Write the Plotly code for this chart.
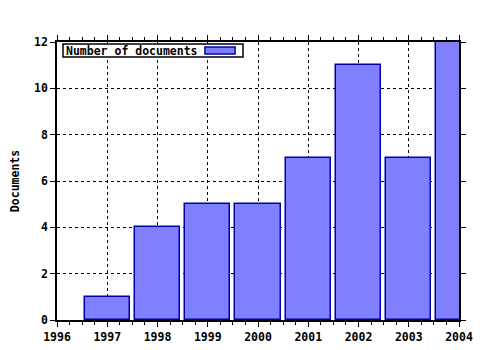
import plotly.graph_objects as go

years = [1997, 1998, 1999, 2000, 2001, 2002, 2003, 2004]
documents = [1, 4, 5, 5, 7, 11, 7, 12]
series_name = "Number of documents"
y_title = "Documents"
x_ticks = [1996, 1997, 1998, 1999, 2000, 2001, 2002, 2003, 2004]
y_ticks = [0, 2, 4, 6, 8, 10, 12]

FONT = dict(family="DejaVu Sans Mono", size=11.5, color="black", weight="bold")
BAR_FILL = "#8080ff"
BAR_EDGE = "#0000a8"

fig = go.Figure()
fig.add_trace(go.Bar(
    x=years, y=documents, width=0.9, name=series_name,
    marker=dict(color=BAR_FILL, line=dict(color=BAR_EDGE, width=1.5)),
    showlegend=False,
))

axis_common = dict(
    showline=True, linecolor="black", linewidth=1.5, mirror="ticks",
    ticks="outside", ticklen=5, tickcolor="black", tickwidth=1,
    showgrid=True, gridcolor="black", gridwidth=1, griddash="3px,3px",
    zeroline=False, tickfont=FONT, automargin=False,
)

fig.update_xaxes(
    range=[1996, 2004], tickvals=x_ticks, ticktext=[str(v) for v in x_ticks],
    minor=dict(dtick=0.25, ticks="outside", ticklen=3, tickcolor="black", showgrid=False),
    **axis_common,
)
fig.update_yaxes(
    range=[0, 12], tickvals=y_ticks,
    title=dict(text=y_title, font=FONT, standoff=12),
    **axis_common,
)

# Legend drawn as box + text + swatch (text left, swatch right, like the original)
fig.add_shape(type="rect", xref="paper", yref="paper",
              x0=0.0149, x1=0.4627, y0=0.946, y1=0.9928,
              line=dict(color="black", width=1.5), fillcolor="white", layer="above")
fig.add_shape(type="rect", xref="paper", yref="paper",
              x0=0.368, x1=0.443, y0=0.957, y1=0.982,
              line=dict(color=BAR_EDGE, width=1.5), fillcolor=BAR_FILL, layer="above")
fig.add_annotation(text=series_name, xref="paper", yref="paper",
                   x=0.017, y=0.969, xanchor="left", yanchor="middle",
                   showarrow=False, font=FONT)

fig.update_layout(
    width=480, height=350,
    margin=dict(l=57, r=21, t=42, b=30),
    paper_bgcolor="white", plot_bgcolor="white",
    bargap=0,
)

fig.write_html("out.html")
